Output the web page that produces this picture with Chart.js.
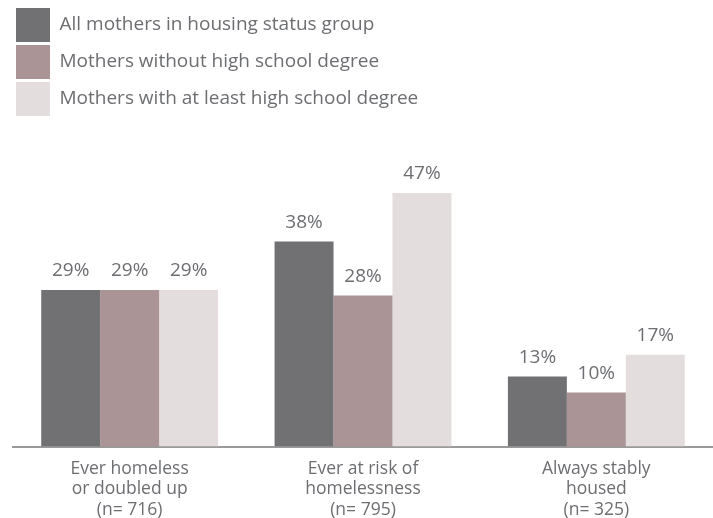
<!DOCTYPE html>
<html><head><meta charset="utf-8">
<script src="https://cdn.jsdelivr.net/npm/chart.js@4/dist/chart.umd.min.js"></script>
<style>html,body{margin:0;padding:0;background:#fff}#wrap{width:713px;height:518px;position:relative}</style>
</head><body><div id="wrap"><canvas id="c" width="713" height="518"></canvas></div>
<script>
const categories = [["Ever homeless","or doubled up","(n= 716)"],["Ever at risk of","homelessness","(n= 795)"],["Always stably","housed","(n= 325)"]];
const seriesNames = ["All mothers in housing status group","Mothers without high school degree","Mothers with at least high school degree"];
const allMothers = [29, 38, 13];
const noHighSchool = [29, 28, 10];
const highSchool = [29, 47, 17];
const colors = ["#717073", "#aa9496", "#e3dddd"];

const valueLabels = {
  id: 'valueLabels',
  afterDatasetsDraw(chart) {
    const ctx = chart.ctx;
    ctx.save();
    ctx.font = '19px "Open Sans"';
    ctx.fillStyle = '#6d6e71';
    ctx.textAlign = 'center';
    ctx.textBaseline = 'middle';
    chart.data.datasets.forEach((ds, i) => {
      chart.getDatasetMeta(i).data.forEach((bar, j) => {
        ctx.fillText(ds.data[j] + '%', bar.x, bar.y - 19);
      });
    });
    ctx.restore();
  }
};

new Chart(document.getElementById('c'), {
  type: 'bar',
  data: {
    labels: categories,
    datasets: [
      {label: seriesNames[0], data: allMothers, backgroundColor: colors[0]},
      {label: seriesNames[1], data: noHighSchool, backgroundColor: colors[1]},
      {label: seriesNames[2], data: highSchool, backgroundColor: colors[2]}
    ]
  },
  options: {
    responsive: false,
    animation: false,
    layout: {padding: {left: 13, right: 0, top: 5, bottom: -14}},
    datasets: {bar: {barPercentage: 1, categoryPercentage: 0.758}},
    plugins: {
      tooltip: {enabled: false},
      legend: {
        position: 'top',
        align: 'start',
        maxWidth: 440,
        labels: {boxWidth: 34, boxHeight: 34, padding: 3, color: '#6d6e71', font: {family: 'Open Sans', size: 19}}
      }
    },
    scales: {
      x: {
        grid: {display: false, drawTicks: false},
        border: {display: true, color: '#9a9a9a', width: 2},
        ticks: {color: '#6d6e71', font: {family: 'Open Sans', size: 17.5, lineHeight: 1.17}, padding: 12, maxRotation: 0}
      },
      y: {display: false, min: 0, max: 59.4}
    }
  },
  plugins: [valueLabels]
});
</script></body></html>
